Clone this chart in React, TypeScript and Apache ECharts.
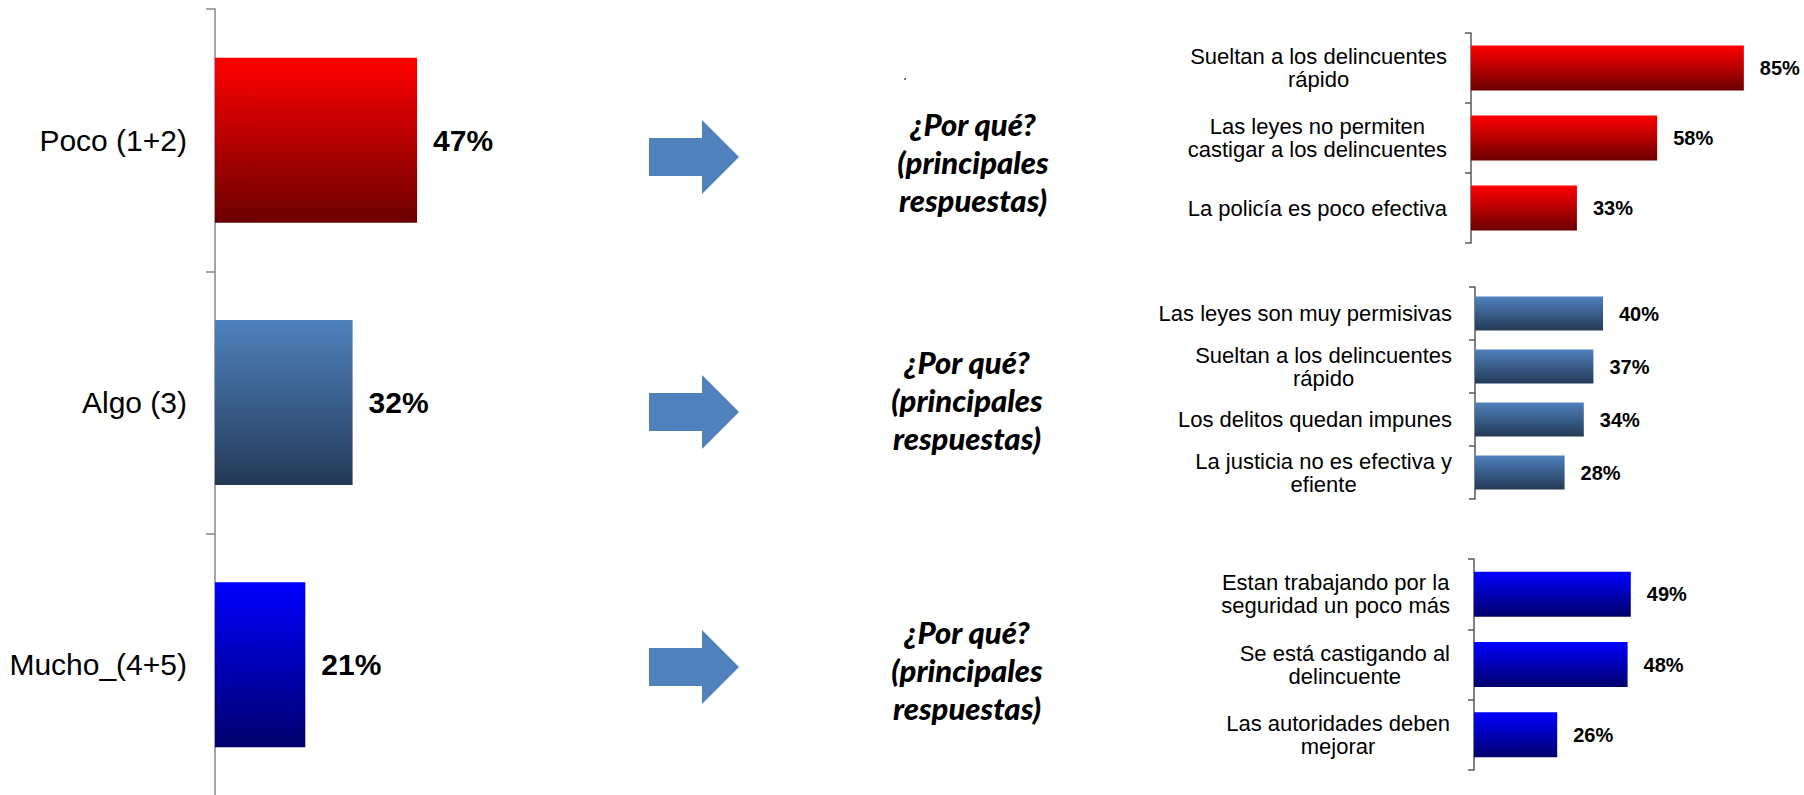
import React, { useEffect, useRef } from "react";
import * as echarts from "echarts";

const mainCategories = ["Poco (1+2)", "Algo (3)", "Mucho_(4+5)"];
const mainValues = [47, 32, 21];

const pocoReasons = [
  "Sueltan a los delincuentes\nrápido",
  "Las leyes no permiten\ncastigar a los delincuentes",
  "La policía es poco efectiva",
];
const pocoValues = [85, 58, 33];

const algoReasons = [
  "Las leyes son muy permisivas",
  "Sueltan a los delincuentes\nrápido",
  "Los delitos quedan impunes",
  "La justicia no es efectiva y\nefiente",
];
const algoValues = [40, 37, 34, 28];

const muchoReasons = [
  "Estan trabajando por la\nseguridad un poco más",
  "Se está castigando al\ndelincuente",
  "Las autoridades deben\nmejorar",
];
const muchoValues = [49, 48, 26];

const whyLines = ["¿Por qué?", "(principales", "respuestas)"];

const grad = (top: string, bottom: string) =>
  new echarts.graphic.LinearGradient(0, 0, 0, 1, [
    { offset: 0, color: top },
    { offset: 1, color: bottom },
  ]);

const RED = ["#FF0000", "#6C0000"];
const STEEL = ["#4F81BD", "#233956"];
const BLUE = ["#0000FF", "#00006C"];

const FONT = "'Liberation Sans', Arial, sans-serif";

const centerLines = (v: string) =>
  v
    .split("\n")
    .map((l) => `{c|${l}}`)
    .join("\n");

export default function App() {
  const ref = useRef<HTMLDivElement>(null);

  useEffect(() => {
    if (!ref.current) return;
    const chart = echarts.init(ref.current, undefined, { renderer: "svg" });

    const grids = [
      { left: 215, top: 9, width: 430, height: 787 },
      { left: 1471, top: 33, width: 321, height: 210 },
      { left: 1475, top: 287, width: 320, height: 212 },
      { left: 1474, top: 559, width: 320, height: 211 },
    ].map((g) => ({ ...g, containLabel: false, outerBoundsMode: "none" }));

    const xAxes = grids.map((_, i) => ({
      type: "value",
      gridIndex: i,
      min: 0,
      max: 100,
      show: false,
    }));

    const smallAxis = (gridIndex: number, data: string[], margin: number) => ({
      type: "category",
      gridIndex,
      data,
      inverse: true,
      axisLine: { show: true, lineStyle: { color: "#595959", width: 1.5 } },
      axisTick: { show: true, length: 6, lineStyle: { color: "#595959", width: 1.5 } },
      axisLabel: {
        margin,
        fontSize: 22,
        fontFamily: FONT,
        color: "#000",
        lineHeight: 23,
        formatter: centerLines,
        rich: {
          c: { align: "center", fontSize: 22, fontFamily: FONT, color: "#000", lineHeight: 23 },
        },
      },
      splitLine: { show: false },
    });

    const yAxes = [
      {
        type: "category",
        gridIndex: 0,
        data: mainCategories,
        inverse: true,
        axisLine: { show: true, lineStyle: { color: "#868686", width: 1.5 } },
        axisTick: { show: true, length: 9, lineStyle: { color: "#868686", width: 1.5 } },
        axisLabel: { margin: 28, fontSize: 30, fontFamily: FONT, color: "#000" },
        splitLine: { show: false },
      },
      smallAxis(1, pocoReasons, 24),
      smallAxis(2, algoReasons, 23),
      smallAxis(3, muchoReasons, 24),
    ];

    const mainColors = [RED, STEEL, BLUE];

    const smallSeries = (idx: number, values: number[], colors: string[], barWidth: number) => ({
      type: "bar",
      xAxisIndex: idx,
      yAxisIndex: idx,
      data: values,
      barWidth,
      itemStyle: { color: grad(colors[0], colors[1]) },
      label: {
        show: true,
        position: "right",
        distance: 16,
        formatter: "{c}%",
        fontSize: 20,
        fontWeight: "bold",
        fontFamily: FONT,
        color: "#000",
      },
    });

    const arrowCenters = [157, 412, 667];
    const textCenters = [
      { x: 973, y: 162 },
      { x: 967, y: 400 },
      { x: 967, y: 670 },
    ];

    const graphics: any[] = [];
    arrowCenters.forEach((cy) => {
      graphics.push({
        type: "polygon",
        shape: {
          points: [
            [649, cy - 19],
            [702, cy - 19],
            [702, cy - 37],
            [739, cy],
            [702, cy + 37],
            [702, cy + 19],
            [649, cy + 19],
          ],
        },
        style: { fill: "#4F81BD" },
        silent: true,
      });
    });
    textCenters.forEach((p) => {
      graphics.push({
        type: "text",
        x: p.x,
        y: p.y,
        style: {
          text: whyLines.join("\n"),
          font: "italic 900 31px Lato",
          textAlign: "center",
          textVerticalAlign: "middle",
          lineHeight: 38,
          fill: "#000",
        },
        silent: true,
      });
    });
    graphics.push({
      type: "circle",
      shape: { cx: 905, cy: 79, r: 1 },
      style: { fill: "#555" },
      silent: true,
    });

    chart.setOption({
      animation: false,
      backgroundColor: "#fff",
      grid: grids,
      xAxis: xAxes,
      yAxis: yAxes,
      graphic: graphics,
      series: [
        {
          type: "bar",
          xAxisIndex: 0,
          yAxisIndex: 0,
          barWidth: 165,
          data: mainValues.map((v, i) => ({
            value: v,
            itemStyle: { color: grad(mainColors[i][0], mainColors[i][1]) },
          })),
          label: {
            show: true,
            position: "right",
            distance: 16,
            formatter: "{c}%",
            fontSize: 30,
            fontWeight: "bold",
            fontFamily: FONT,
            color: "#000",
          },
        },
        smallSeries(1, pocoValues, RED, 45),
        smallSeries(2, algoValues, STEEL, 34),
        smallSeries(3, muchoValues, BLUE, 45),
      ],
    } as any);

    return () => chart.dispose();
  }, []);

  return (
    <div
      ref={ref}
      style={{ position: "fixed", left: 0, top: 0, width: 1804, height: 795, background: "#fff" }}
    />
  );
}
